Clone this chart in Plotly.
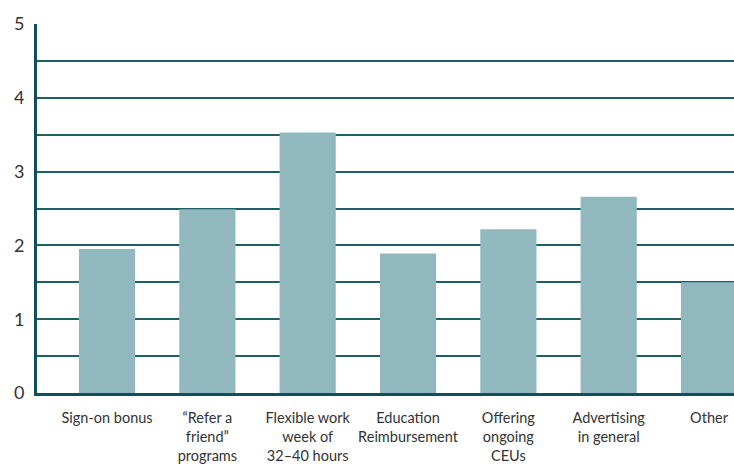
import plotly.graph_objects as go

categories = [
    "Sign-on bonus",
    "\u201cRefer a<br>friend\u201d<br>programs",
    "Flexible work<br>week of<br>32\u201340 hours",
    "Education<br>Reimbursement",
    "Offering<br>ongoing<br>CEUs",
    "Advertising<br>in general",
    "Other",
]
values = [1.95, 2.49, 3.53, 1.89, 2.22, 2.66, 1.5]
y_ticks = [0, 1, 2, 3, 4, 5]

BAR = "#92b8bf"
GRID = "#1c5f66"
AXIS = "#0e5159"
TEXT = "#333333"

fig = go.Figure(go.Bar(
    x=categories, y=values, marker=dict(color=BAR, line=dict(width=0)),
    width=0.56,
))

fig.update_layout(
    width=734, height=464,
    margin=dict(l=37, r=0, t=24, b=71),
    paper_bgcolor="white", plot_bgcolor="white",
    showlegend=False,
    font=dict(family="Lato, Open Sans, sans-serif", color=TEXT),
)
fig.update_xaxes(
    type="category", range=[-0.698, 6.249], automargin=False,
    showline=True, linecolor=AXIS, linewidth=3,
    showgrid=False, ticks="", tickfont=dict(size=14.5, color=TEXT),
    ticklabelstandoff=10,
)
fig.update_yaxes(
    range=[0, 5.001], tickvals=y_ticks, ticktext=[str(v) for v in y_ticks],
    automargin=False,
    showline=True, linecolor=AXIS, linewidth=3,
    showgrid=True, gridcolor=GRID, gridwidth=2,
    minor=dict(dtick=0.5, tick0=0, showgrid=True, gridcolor=GRID, gridwidth=2),
    zeroline=False, ticks="", tickfont=dict(size=18, color=TEXT),
    ticklabelstandoff=6,
)

fig.write_html(
    "out.html",
    config={"displayModeBar": False},
    post_script="document.body.style.margin='0';document.body.style.overflow='hidden';",
)
